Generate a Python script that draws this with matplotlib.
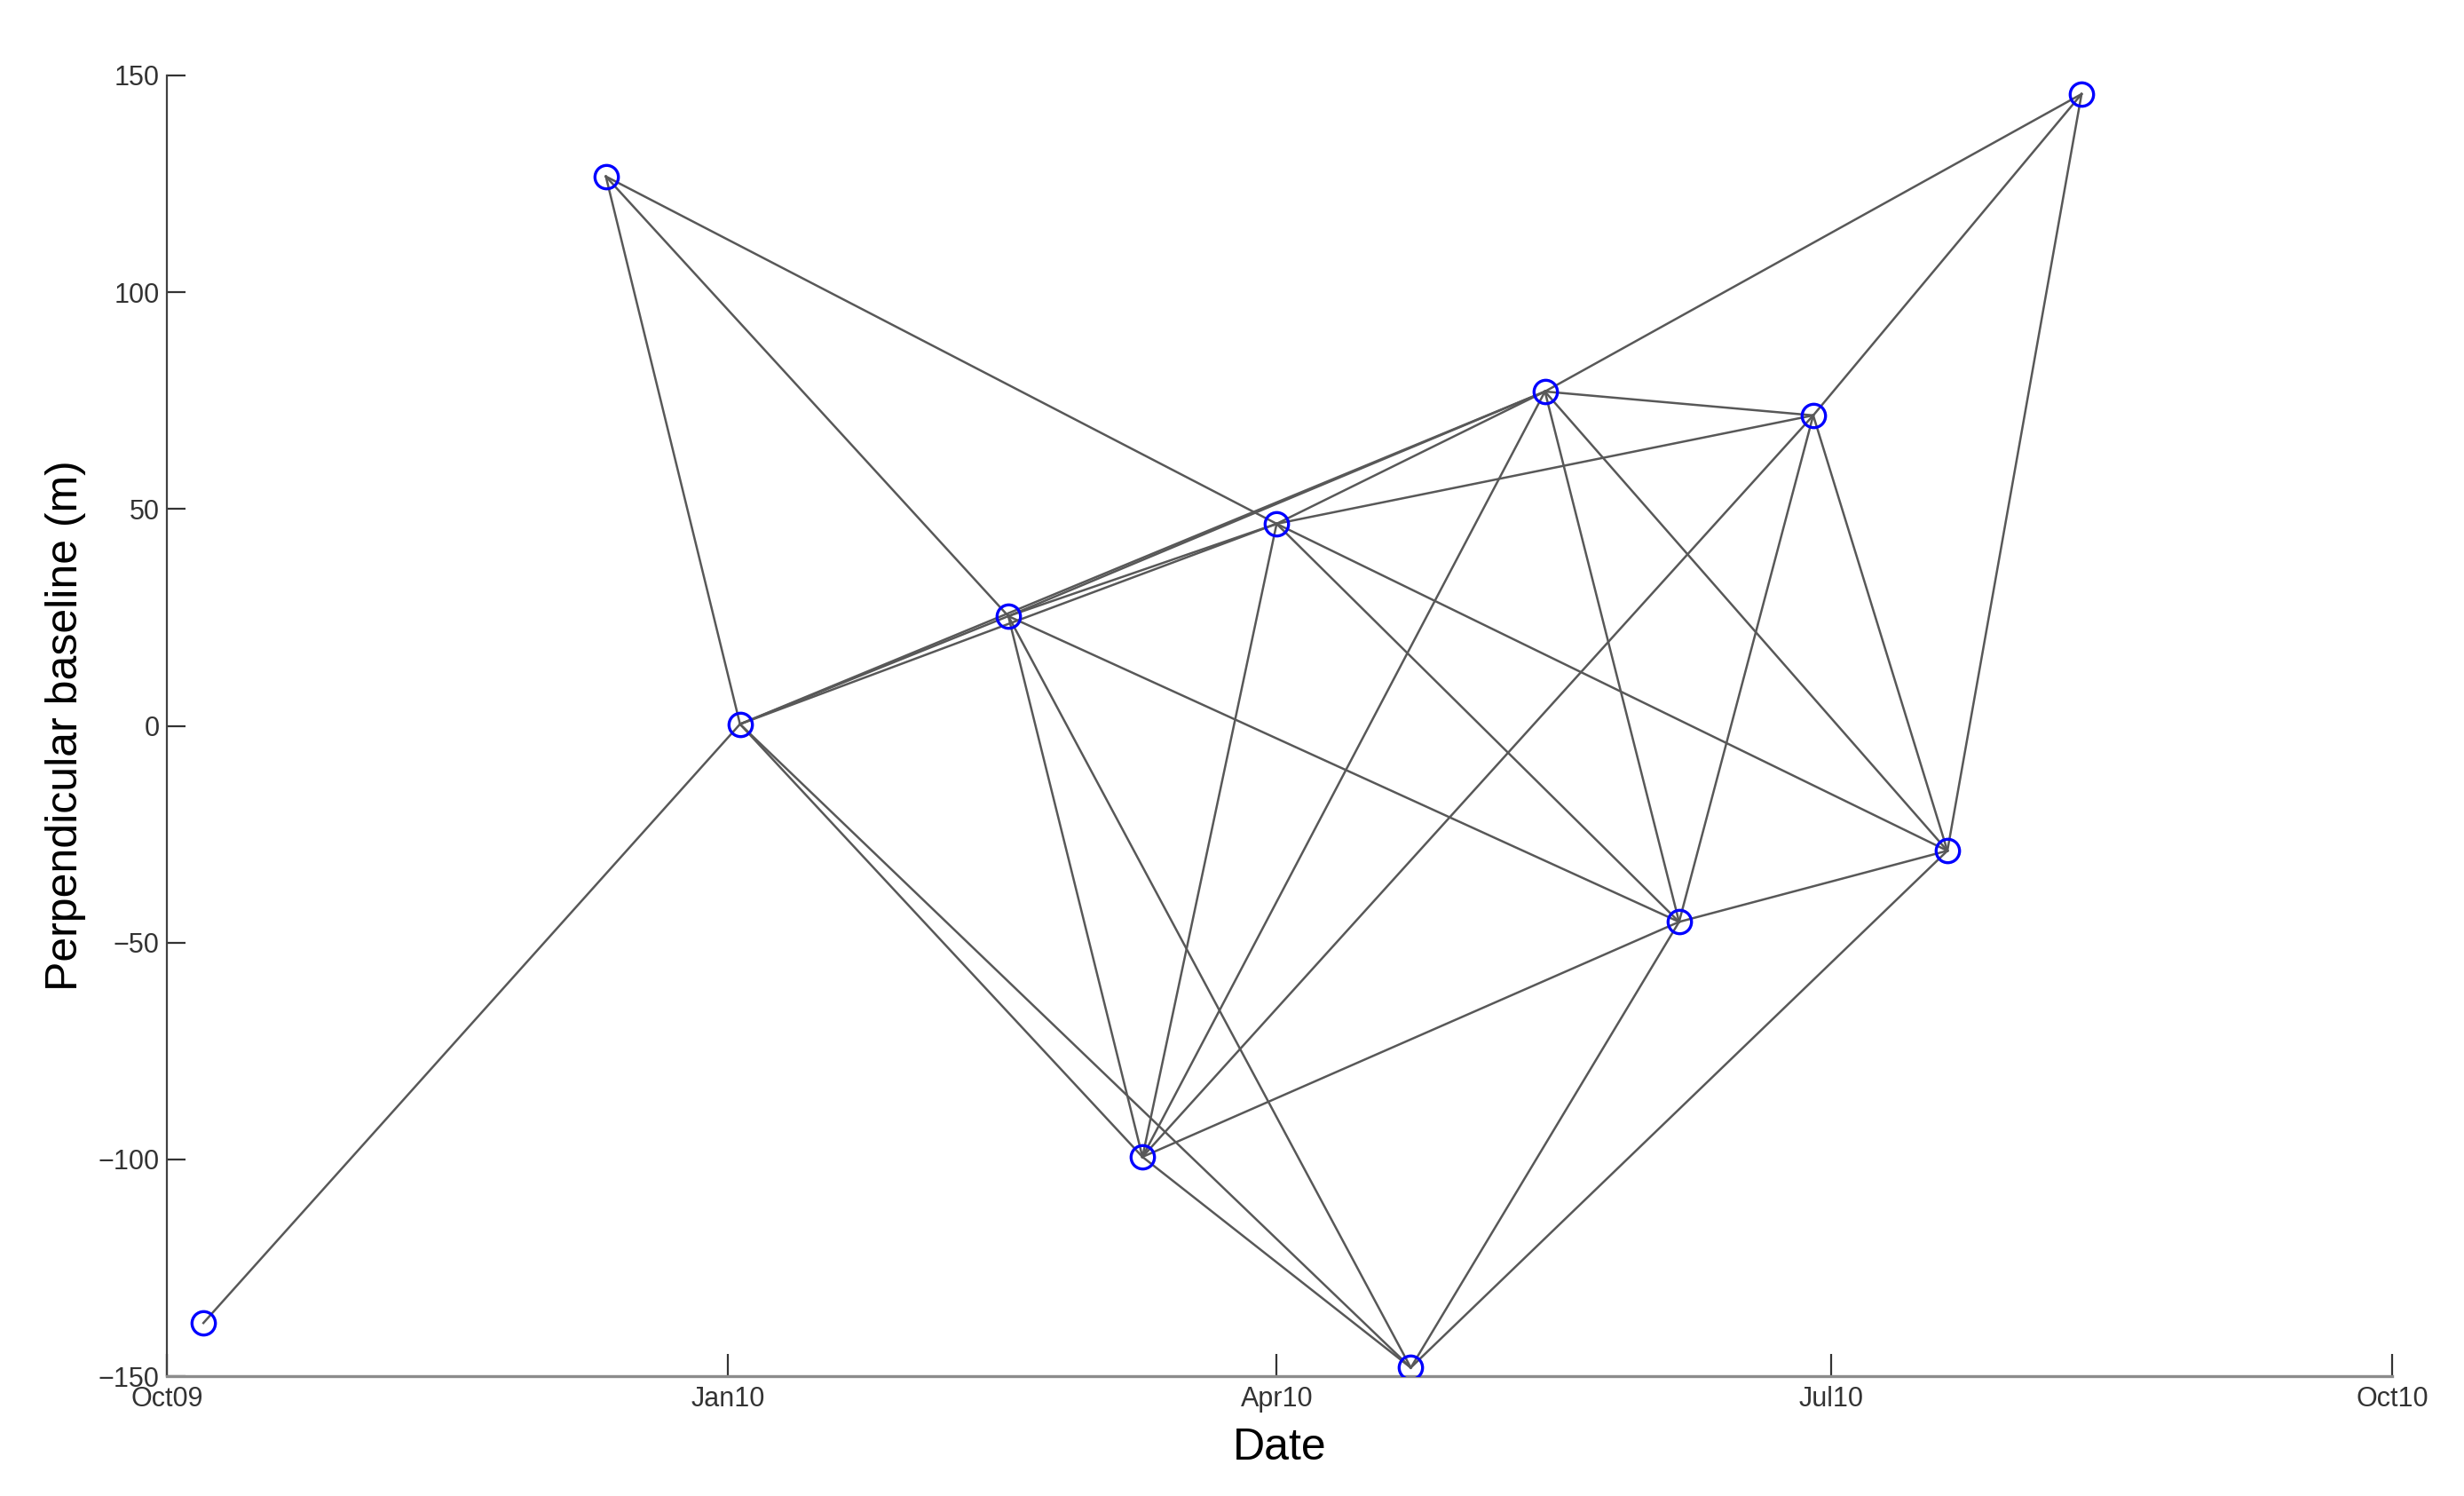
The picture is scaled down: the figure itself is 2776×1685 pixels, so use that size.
import datetime as dt
import matplotlib
matplotlib.use('Agg')
import matplotlib.pyplot as plt
import matplotlib.dates as mdates

# acquisition dates and perpendicular baselines (m)
dates = [dt.date(2009, 10, 7), dt.date(2009, 12, 12), dt.date(2010, 1, 3),
         dt.date(2010, 2, 16), dt.date(2010, 3, 10), dt.date(2010, 4, 1),
         dt.date(2010, 4, 23), dt.date(2010, 5, 15), dt.date(2010, 6, 6),
         dt.date(2010, 6, 28), dt.date(2010, 7, 20), dt.date(2010, 8, 11)]
bperp = [-137.7, 126.7, 0.4, 25.3, -99.4, 46.6, -148.0, 77.1, -45.2, 71.6, -28.8, 145.7]

# interferogram pairs (index into dates)
pairs = [(0, 2),
         (1, 2), (1, 3), (1, 5),
         (2, 3), (2, 5), (2, 7), (2, 4), (2, 6),
         (3, 5), (3, 7), (3, 4), (3, 6), (3, 8),
         (4, 5), (4, 7), (4, 9), (4, 8), (4, 6),
         (5, 7), (5, 9), (5, 8), (5, 10),
         (6, 8), (6, 10),
         (7, 11), (7, 9), (7, 8), (7, 10),
         (8, 9), (8, 10),
         (9, 11), (9, 10),
         (10, 11)]

plt.rcParams['font.family'] = ['Liberation Sans', 'DejaVu Sans']

fig = plt.figure(figsize=(13.88, 8.425), dpi=200)
ax = fig.add_axes([0.0677, 0.080, 0.9033, 0.8696])

for i, j in pairs:
    ax.plot([dates[i], dates[j]], [bperp[i], bperp[j]], color='#585858', lw=0.9, zorder=2)

ax.plot(dates, bperp, 'o', ls='none', markersize=9.5, markerfacecolor='none',
        markeredgecolor='#0000ff', markeredgewidth=1.2, zorder=3)

ax.set_xlim(dt.date(2009, 10, 1), dt.date(2010, 10, 1))
ax.set_ylim(-150, 150)
ax.set_yticks([-150, -100, -50, 0, 50, 100, 150])
ax.xaxis.set_major_locator(mdates.MonthLocator(bymonth=[1, 4, 7, 10]))
ax.xaxis.set_major_formatter(mdates.DateFormatter('%b%y'))

ax.spines['top'].set_visible(False)
ax.spines['right'].set_visible(False)
ax.spines['left'].set_color('#404040')
ax.spines['bottom'].set_color('#8c8c8c')
ax.spines['bottom'].set_linewidth(1.2)
ax.tick_params(axis='x', direction='in', length=9, width=0.8, color='#333333',
               labelsize=11, labelcolor='#333333', pad=4)
ax.tick_params(axis='y', direction='in', length=7.5, width=0.8, color='#333333',
               labelsize=11, labelcolor='#333333', pad=3)

ax.set_xlabel('Date', fontsize=18, labelpad=6)
ax.set_ylabel('Perpendicular baseline (m)', fontsize=18, labelpad=5)

fig.savefig('out.png', dpi=200)
